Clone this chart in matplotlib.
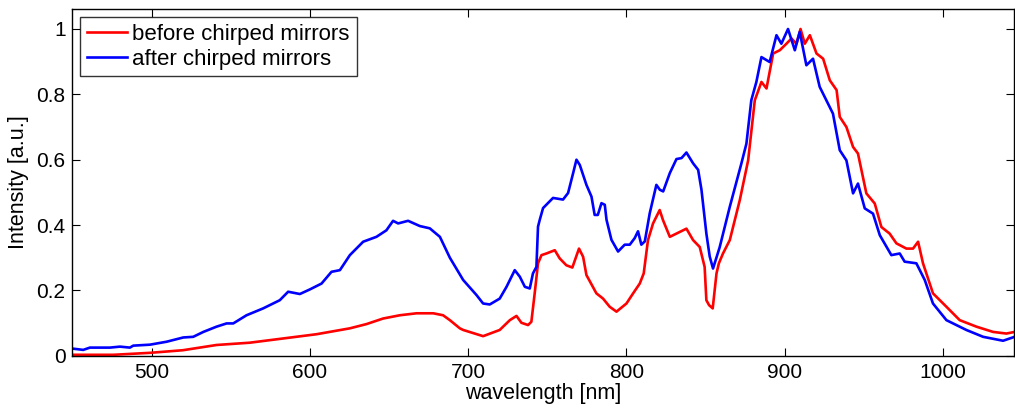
import matplotlib
matplotlib.use("Agg")
import matplotlib.pyplot as plt
from matplotlib.ticker import FixedLocator, FuncFormatter

plt.rcParams['font.family'] = ['Liberation Sans', 'DejaVu Sans']

# before chirped mirrors (red)
red_x = [450, 475.8, 499, 519.8, 541, 562, 583.2, 604.3, 625.3, 635.8, 646.3, 656.9, 667.4, 678,
         684.2, 688.5, 694.8, 696.9, 709.5, 720, 726.4, 730.6, 733.7, 737.9, 740, 742.1, 744.2,
         746.4, 749.5, 754.8, 757.9, 762.1, 765.9, 770.1, 772.7, 774.8, 781.1, 785.3, 789.5,
         793.8, 800.1, 804.3, 808.5, 811, 813.7, 816.9, 821.1, 823.2, 827.5, 831.7, 838, 842.2,
         846.4, 849.5, 850.6, 852.3, 854.6, 857, 858.5, 861.1, 865.4, 871.7, 877, 881.2, 885.4,
         888.6, 892.8, 897, 901.2, 904.4, 907.5, 910.1, 912.8, 916, 920.2, 924.4, 928.6, 932.9,
         934.9, 939.1, 943.3, 946.4, 951.7, 957, 961.2, 966.4, 970.7, 977, 981.2, 984.4, 987.5,
         993.8, 1002.3, 1010.7, 1021.3, 1031.8, 1040.2, 1045.4]
red_y = [0.003, 0.003, 0.009, 0.017, 0.033, 0.040, 0.053, 0.066, 0.084, 0.097, 0.114, 0.124, 0.130,
         0.130, 0.124, 0.109, 0.084, 0.079, 0.060, 0.079, 0.109, 0.122, 0.101, 0.094, 0.104,
         0.191, 0.283, 0.308, 0.313, 0.323, 0.298, 0.277, 0.270, 0.328, 0.303, 0.247, 0.191,
         0.175, 0.150, 0.135, 0.160, 0.191, 0.221, 0.252, 0.354, 0.405, 0.446, 0.415, 0.364,
         0.374, 0.389, 0.354, 0.333, 0.272, 0.170, 0.155, 0.145, 0.252, 0.283, 0.313, 0.354,
         0.476, 0.598, 0.782, 0.838, 0.818, 0.925, 0.935, 0.955, 0.971, 0.955, 1.0, 0.955,
         0.981, 0.925, 0.909, 0.843, 0.813, 0.731, 0.700, 0.639, 0.619, 0.497, 0.466, 0.394,
         0.374, 0.344, 0.328, 0.328, 0.349, 0.283, 0.191, 0.150, 0.109, 0.089, 0.073, 0.068,
         0.073]

# after chirped mirrors (blue)
blue_x = [450, 456.8, 461, 473.7, 480, 486.3, 488.4, 499, 509.5, 520, 526.3, 532.7, 541, 547.4,
          551.6, 560, 570.5, 581, 586.3, 593.7, 600, 607.4, 613.7, 619, 625.3, 633.7, 642.1,
          648.4, 652.6, 655.8, 662.1, 669.5, 675.8, 682.2, 688.5, 696.9, 705.3, 709.5, 713.7,
          720, 724.3, 729.5, 732.7, 735.9, 739, 741, 743.2, 744.2, 745.3, 747.4, 753.7, 760,
          763.2, 766.4, 768.5, 770.6, 774.8, 778, 780, 782, 784.3, 786.4, 787.5, 790.6, 794.8,
          799, 802.2, 805.3, 807.4, 809.5, 811.7, 814.8, 819, 821.2, 823.3, 827.5, 831.7, 834.9,
          838, 842.2, 845.4, 847.5, 850.6, 852.7, 854.8, 859, 865.4, 872.7, 875.9, 879, 882.2,
          885.4, 890.6, 894.9, 898, 902.2, 906.5, 909.6, 913.8, 918, 922.2, 926.4, 930.6, 934.9,
          939.1, 943.3, 946.4, 950.7, 955.9, 960.2, 967.5, 972.8, 975.9, 983.3, 988.6, 993.8,
          1002.3, 1014.9, 1025.5, 1038.1, 1045.4]
blue_y = [0.022, 0.018, 0.025, 0.025, 0.028, 0.025, 0.031, 0.034, 0.043, 0.056, 0.058, 0.073,
          0.089, 0.099, 0.099, 0.124, 0.145, 0.170, 0.196, 0.189, 0.203, 0.221, 0.257, 0.262,
          0.308, 0.349, 0.364, 0.384, 0.413, 0.405, 0.413, 0.397, 0.390, 0.364, 0.300, 0.232,
          0.186, 0.160, 0.157, 0.175, 0.211, 0.262, 0.242, 0.211, 0.206, 0.252, 0.272, 0.395,
          0.416, 0.452, 0.483, 0.478, 0.498, 0.559, 0.600, 0.584, 0.523, 0.487, 0.431, 0.431,
          0.467, 0.462, 0.416, 0.355, 0.319, 0.340, 0.340, 0.360, 0.381, 0.340, 0.350, 0.436,
          0.523, 0.508, 0.503, 0.559, 0.602, 0.605, 0.622, 0.589, 0.569, 0.508, 0.374, 0.304,
          0.267, 0.332, 0.456, 0.588, 0.649, 0.782, 0.838, 0.914, 0.899, 0.981, 0.955, 1.0,
          0.935, 0.991, 0.889, 0.909, 0.823, 0.782, 0.741, 0.629, 0.598, 0.497, 0.527, 0.451,
          0.435, 0.369, 0.308, 0.313, 0.288, 0.283, 0.232, 0.160, 0.109, 0.079, 0.058, 0.046,
          0.058]

x_ticks = [500, 600, 700, 800, 900, 1000]
y_ticks = [0, 0.2, 0.4, 0.6, 0.8, 1.0]
labels = ['before chirped mirrors', 'after chirped mirrors']

fig = plt.figure(figsize=(10.15, 4.08), dpi=100)
ax = fig.add_axes([0.0714, 0.128, 0.9276, 0.849])

ax.plot(red_x, red_y, color='#ff0000', lw=1.9, label=labels[0])
ax.plot(blue_x, blue_y, color='#0000ff', lw=1.9, label=labels[1])

ax.set_xlim(450, 1045)
ax.set_ylim(0, 1.06)
ax.xaxis.set_major_locator(FixedLocator(x_ticks))
ax.yaxis.set_major_locator(FixedLocator(y_ticks))
ax.yaxis.set_major_formatter(FuncFormatter(lambda v, p: f"{v:g}"))
ax.tick_params(direction='in', length=6, width=0.8, top=True, right=True,
               labelsize=15, colors='black', pad=5)
for s in ax.spines.values():
    s.set_linewidth(1.0)

ax.set_xlabel('wavelength [nm]', fontsize=15.5, labelpad=1)
ax.set_ylabel('Intensity [a.u.]', fontsize=15.5, labelpad=5)

leg = ax.legend(loc='upper left', fontsize=16, frameon=True, fancybox=False,
                edgecolor='black', handlelength=1.8, handletextpad=0.25,
                borderpad=0.3, labelspacing=0.17, borderaxespad=0.35)
leg.get_frame().set_linewidth(1.0)

fig.savefig('out.png', dpi=100)
